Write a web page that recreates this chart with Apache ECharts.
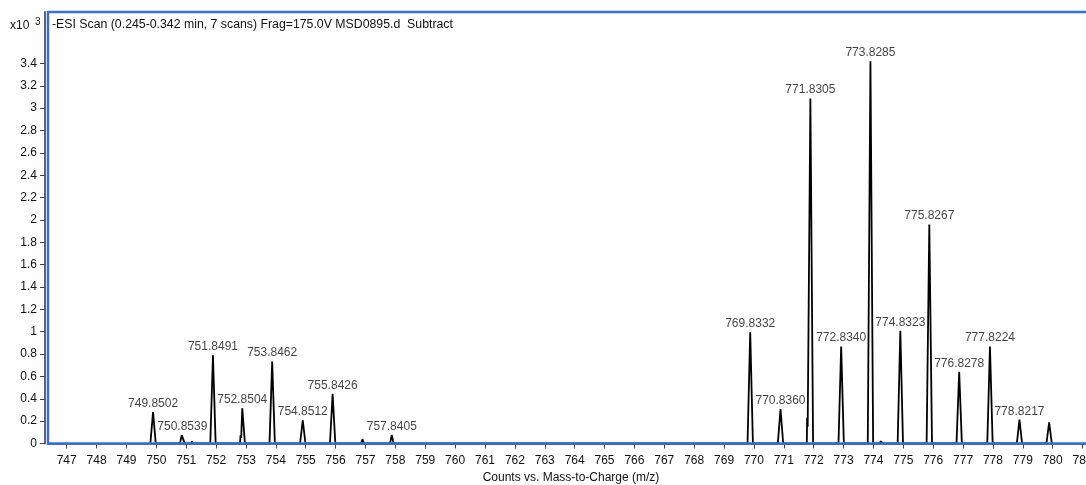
<!DOCTYPE html>
<html><head><meta charset="utf-8">
<script src="https://cdn.jsdelivr.net/npm/echarts@6/dist/echarts.min.js"></script>
<style>html,body{margin:0;padding:0;background:#fff}#c{width:1086px;height:485px}</style>
</head><body><div id="c"></div>
<script>
const FONT = "'Liberation Sans', Arial, sans-serif";
const xTicks = [747,748,749,750,751,752,753,754,755,756,757,758,759,760,761,762,763,764,765,766,767,768,769,770,771,772,773,774,775,776,777,778,779,780,781];
const yTicks = [0,0.2,0.4,0.6,0.8,1,1.2,1.4,1.6,1.8,2,2.2,2.4,2.6,2.8,3,3.2,3.4];
// profile points [m/z, counts x10^3]
const profile = [
  [749.80,0],[749.89,0.28],[749.98,0],
  [750.79,0],[750.85,0.075],[750.88,0.07],[750.95,0],
  [751.16,0],[751.19,0.02],[751.22,0],
  [751.805,0],[751.895,0.79],[751.985,0],
  [752.80,0],[752.82,0.075],[752.84,0.05],[752.875,0.316],[752.965,0],
  [753.787,0],[753.877,0.734],[753.967,0],
  [754.81,0],[754.90,0.21],[754.99,0],
  [755.81,0],[755.90,0.444],[755.99,0],
  [756.85,0],[756.90,0.04],[756.95,0],
  [757.82,0],[757.88,0.076],[757.94,0],
  [769.786,0],[769.876,0.994],[769.966,0],
  [770.80,0],[770.89,0.307],[770.98,0],
  [771.77,0],[771.78,0.23],[771.80,0.15],[771.89,3.087],[771.98,0],
  [772.83,0],[772.92,0.868],[773.01,0],
  [773.81,0],[773.90,3.42],[773.99,0],
  [774.20,0],[774.25,0.02],[774.32,0],
  [774.81,0],[774.90,1.009],[774.99,0],
  [775.78,0],[775.87,1.96],[775.96,0],
  [776.78,0],[776.87,0.641],[776.96,0],
  [777.81,0],[777.90,0.868],[777.99,0],
  [778.63,0],[778.65,0.012],[778.67,0],
  [778.80,0],[778.887,0.213],[778.975,0],
  [779.79,0],[779.88,0.19],[779.97,0]
];
const labelText = ['749.8502','750.8539','751.8491','752.8504','753.8462','754.8512','755.8426','757.8405','769.8332','770.8360','771.8305','772.8340','773.8285','774.8323','775.8267','776.8278','777.8224','778.8217'];
const labelMz = [749.89,750.87,751.895,752.875,753.877,754.90,755.90,757.88,769.876,770.89,771.89,772.92,773.90,774.90,775.87,776.87,777.90,778.887];
const labelH = [0.28,0.075,0.79,0.316,0.734,0.21,0.444,0.076,0.994,0.307,3.087,0.868,3.42,1.009,1.96,0.641,0.868,0.213];

const TXT = '#111';
const chart = echarts.init(document.getElementById('c'));
chart.setOption({
  animation: false,
  backgroundColor: '#fff',
  textStyle: {fontFamily: FONT},
  title: [{
    text: '-ESI Scan (0.245-0.342 min, 7 scans) Frag=175.0V MSD0895.d  Subtract',
    left: 52, top: 19, padding: 0,
    textStyle: {fontSize: 12.3, fontWeight: 'normal', color: TXT, fontFamily: FONT}
  }],
  graphic: [
    {type: 'text', left: 10, top: 20, style: {text: 'x10', font: '12px ' + FONT, fill: TXT}},
    {type: 'text', left: 35, top: 17, style: {text: '3', font: '10px ' + FONT, fill: TXT}}
  ],
  grid: {left: 48, top: 12, right: -8, bottom: 41.5, show: true, borderColor: '#3b6fd0', borderWidth: 2.5, z: 10,
         outerBoundsMode: 'none', containLabel: false},
  xAxis: {
    type: 'value', min: 746.374, max: 781.382, offset: 3,
    axisLine: {show: true, lineStyle: {color: '#666', width: 2}},
    axisTick: {show: true, customValues: xTicks, length: 5, lineStyle: {color: '#444'}},
    axisLabel: {customValues: xTicks, margin: 8, fontSize: 12, color: TXT, fontFamily: FONT, hideOverlap: false},
    splitLine: {show: false},
    name: 'Counts vs. Mass-to-Charge (m/z)', nameLocation: 'middle', nameGap: 25,
    nameTextStyle: {fontSize: 12, color: TXT, fontFamily: FONT}
  },
  yAxis: {
    type: 'value', min: 0, max: 3.86, offset: 3,
    axisLine: {show: true, lineStyle: {color: '#666', width: 2}},
    axisTick: {show: true, customValues: yTicks, length: 5, lineStyle: {color: '#444'}},
    axisLabel: {customValues: yTicks, margin: 8, fontSize: 12, color: TXT, fontFamily: FONT},
    splitLine: {show: false}
  },
  series: [
    {type: 'line', data: profile, showSymbol: false, symbol: 'none',
     lineStyle: {color: '#000', width: 1.8}, z: 2},
    {type: 'scatter', data: labelMz.map((m, i) => [m, labelH[i]]), symbolSize: 1,
     itemStyle: {color: 'rgba(0,0,0,0)'}, z: 3,
     label: {show: true, position: 'top', distance: 2, fontSize: 12, color: TXT, fontFamily: FONT,
       formatter: p => labelText[p.dataIndex]}}
  ]
});
</script></body></html>
